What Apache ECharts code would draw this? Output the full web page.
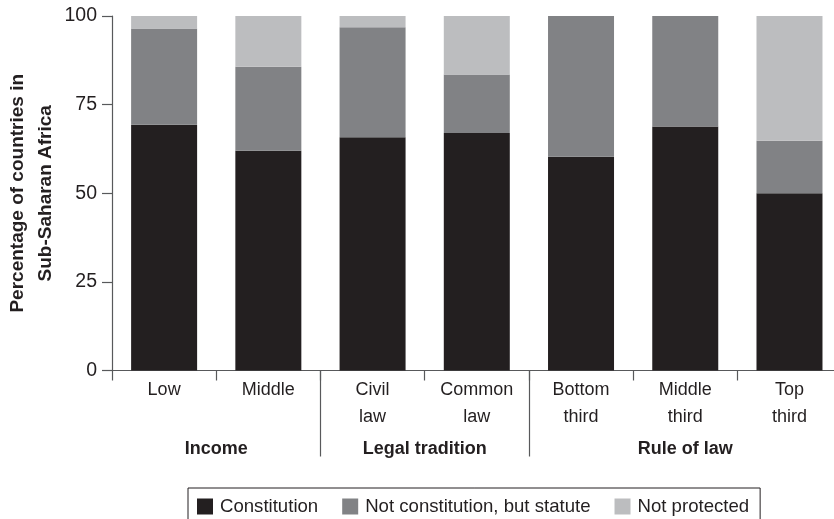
<!DOCTYPE html>
<html>
<head>
<meta charset="utf-8">
<script src="https://cdn.jsdelivr.net/npm/echarts@6/dist/echarts.min.js"></script>
<style>
html,body{margin:0;padding:0;background:#fff;}
#chart{width:834px;height:519px;}
</style>
</head>
<body>
<div id="chart"></div>
<script>
const categories = ['Low', 'Middle', 'Civil\nlaw', 'Common\nlaw', 'Bottom\nthird', 'Middle\nthird', 'Top\nthird'];
const constitution = [69.3, 62.0, 65.8, 67.0, 60.3, 68.8, 50.0];
const statute = [27.2, 23.7, 31.0, 16.5, 39.7, 31.2, 14.8];
const notProtected = [3.5, 14.3, 3.2, 16.5, 0, 0, 35.2];
const groupNames = ['Income', 'Legal tradition', 'Rule of law'];
const groupCenters = [1, 3, 5.5];
const groupBounds = [2, 4];
const yTicks = [0, 25, 50, 75, 100];

const FONT = 'Liberation Sans';
const TXT = '#231f20';
const AX = '#58595b';

const chart = echarts.init(document.getElementById('chart'), null, {renderer: 'canvas'});
chart.setOption({
  animation: false,
  backgroundColor: '#ffffff',
  textStyle: {fontFamily: FONT},
  grid: {left: 112, top: 16, bottom: 148.5, right: -7.6, containLabel: false, outerBoundsMode: 'none'},
  legend: {
    left: 188, top: 488,
    padding: [9, 11, 20, 9],
    borderColor: TXT, borderWidth: 1,
    itemWidth: 16, itemHeight: 16, itemGap: 24,
    icon: 'rect',
    textStyle: {fontFamily: FONT, fontSize: 18.6, color: TXT, padding: [0, 0, 0, 2]},
    data: ['Constitution', 'Not constitution, but statute', 'Not protected']
  },
  xAxis: [
    {
      type: 'category', data: categories,
      axisLine: {lineStyle: {color: AX, width: 1.2}},
      axisTick: {show: true, length: 10, alignWithLabel: false, lineStyle: {color: AX, width: 1.2}},
      axisLabel: {fontFamily: FONT, fontSize: 18, color: TXT, lineHeight: 27, margin: 6, interval: 0}
    },
    {
      type: 'value', min: 0, max: 7, position: 'bottom', offset: 0,
      axisLine: {show: false},
      splitLine: {show: false},
      axisTick: {show: true, customValues: groupBounds, length: 86, lineStyle: {color: AX, width: 1.2}},
      axisLabel: {
        customValues: groupCenters,
        fontFamily: FONT, fontSize: 18, fontWeight: 'bold', color: TXT, margin: 70,
        formatter: function (v) { const i = groupCenters.indexOf(v); return i >= 0 ? groupNames[i] : ''; }
      }
    }
  ],
  yAxis: [
    {
      type: 'value', min: 0, max: 100, interval: 25,
      axisLine: {show: true, lineStyle: {color: AX, width: 1.2}},
      axisTick: {show: true, length: 10, lineStyle: {color: AX, width: 1.2}},
      axisLabel: {fontFamily: FONT, fontSize: 19.5, color: TXT, margin: 15, customValues: yTicks},
      splitLine: {show: false}
    },
    {
      type: 'value', min: 0, max: 100, position: 'left', offset: 0,
      name: 'Percentage of countries in\nSub-Saharan Africa',
      nameLocation: 'middle', nameGap: 52,
      nameTextStyle: {fontFamily: FONT, fontSize: 19, fontWeight: 'bold', color: TXT, lineHeight: 28},
      axisLine: {show: false}, axisTick: {show: false}, axisLabel: {show: false}, splitLine: {show: false}
    }
  ],
  series: [
    {name: 'Constitution', type: 'bar', stack: 's', data: constitution, barWidth: 66, itemStyle: {color: '#231f20'}},
    {name: 'Not constitution, but statute', type: 'bar', stack: 's', data: statute, barWidth: 66, itemStyle: {color: '#818285'}},
    {name: 'Not protected', type: 'bar', stack: 's', data: notProtected, barWidth: 66, itemStyle: {color: '#bcbdbf'}}
  ]
});
</script>
</body>
</html>
